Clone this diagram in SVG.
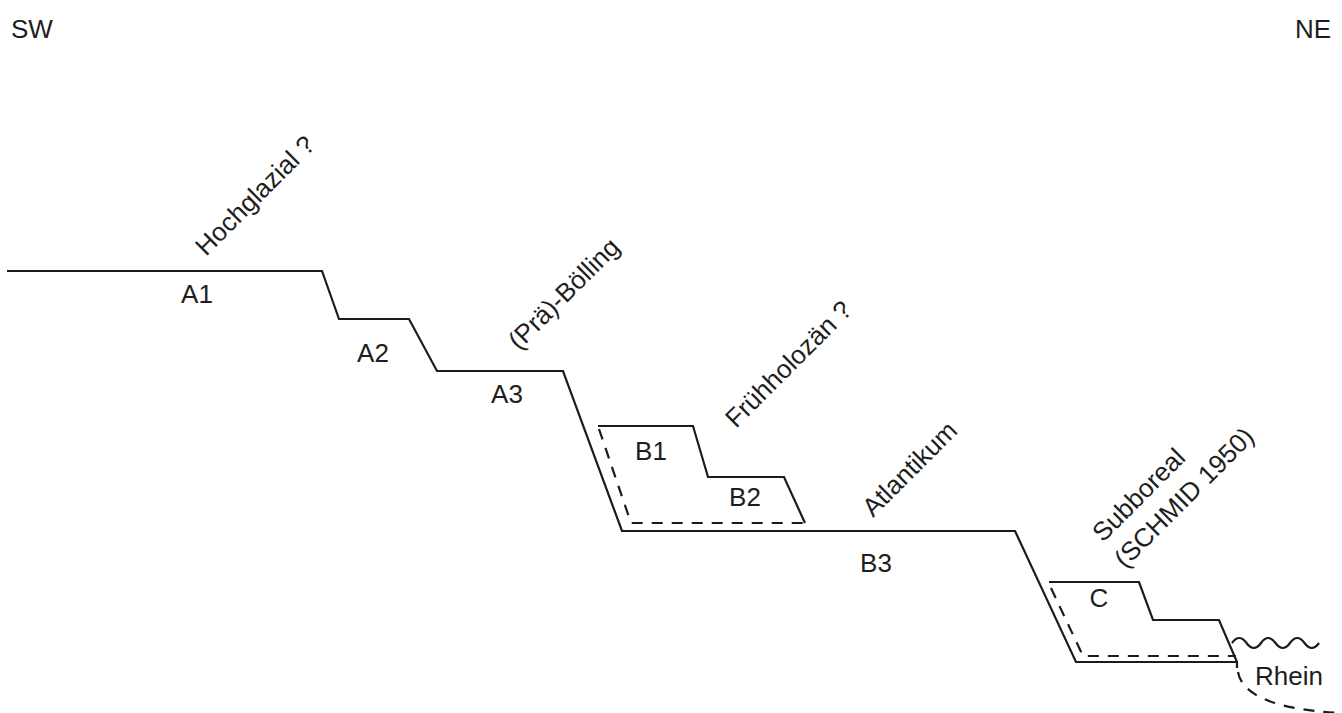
<svg xmlns="http://www.w3.org/2000/svg" width="1342" height="713" viewBox="0 0 1342 713">
  <style>
    .line { fill: none; stroke: #1c1c1c; stroke-width: 2.2; stroke-linejoin: miter; }
    .dash { fill: none; stroke: #1c1c1c; stroke-width: 2.2; stroke-dasharray: 11 9; }
    .lbl { font-family: "Liberation Sans", Arial, sans-serif; font-size: 26px; fill: #1e1e1e; }
    .era { font-family: "Liberation Sans", Arial, sans-serif; font-size: 26px; fill: #1e1e1e; }
  </style>
  <rect width="1342" height="713" fill="#ffffff"/>

  <!-- orientation -->
  <g id="orient">
    <text class="lbl" x="11" y="38">SW</text>
    <text class="lbl" x="1331" y="38" text-anchor="end">NE</text>
  </g>

  <!-- terrace profile and outlines -->
  <g id="connectors">
    <path id="profile" class="line" d="M7,271 H322 L339,319 H409 L437,371 H563 L622,531 H1015 L1076,662 H1237"/>
    <path id="terrace-b-solid" class="line" d="M598,426 H693 L708,477 H784 L805,523"/>
    <path id="terrace-b-dash" class="dash" d="M599,429 L631,523 H805"/>
    <path id="terrace-c-solid" class="line" d="M1049,582 H1139 L1153,620 H1219 L1237,662 V668"/>
    <path id="terrace-c-dash" class="dash" d="M1051,588 L1083,656 H1236"/>
    <path id="river-surface" class="line" d="M1232,643 q7.2,-10 14.5,0 t14.5,0 t14.5,0 t14.5,0 t14.5,0 t14.5,0"/>
    <path id="river-bed" class="dash" d="M1238,672 C1242,695 1275,710 1342,713"/>
  </g>

  <!-- terrace names -->
  <g id="A1"><text class="lbl" x="197" y="303" text-anchor="middle">A1</text></g>
  <g id="A2"><text class="lbl" x="373" y="362" text-anchor="middle">A2</text></g>
  <g id="A3"><text class="lbl" x="507" y="403" text-anchor="middle">A3</text></g>
  <g id="B1"><text class="lbl" x="651" y="460" text-anchor="middle">B1</text></g>
  <g id="B2"><text class="lbl" x="745" y="506" text-anchor="middle">B2</text></g>
  <g id="B3"><text class="lbl" x="876" y="572" text-anchor="middle">B3</text></g>
  <g id="C"><text class="lbl" x="1099" y="607" text-anchor="middle">C</text></g>
  <g id="Rhein"><text class="era" x="1255" y="685" font-size="24">Rhein</text></g>

  <!-- period labels, set on a 45 degree slope -->
  <g id="hochglazial"><text class="era" transform="translate(206,257) rotate(-45)">Hochglazial ?</text></g>
  <g id="boelling"><text class="era" transform="translate(519,351) rotate(-45)">(Prä)-Bölling</text></g>
  <g id="fruehholozaen"><text class="era" transform="translate(736,429) rotate(-45)">Frühholozän ?</text></g>
  <g id="atlantikum"><text class="era" transform="translate(873,518) rotate(-45)">Atlantikum</text></g>
  <g id="subboreal">
    <text class="era" transform="translate(1103,543) rotate(-45)">Subboreal<tspan x="-3" dy="34">(SCHMID 1950)</tspan></text>
  </g>
</svg>
